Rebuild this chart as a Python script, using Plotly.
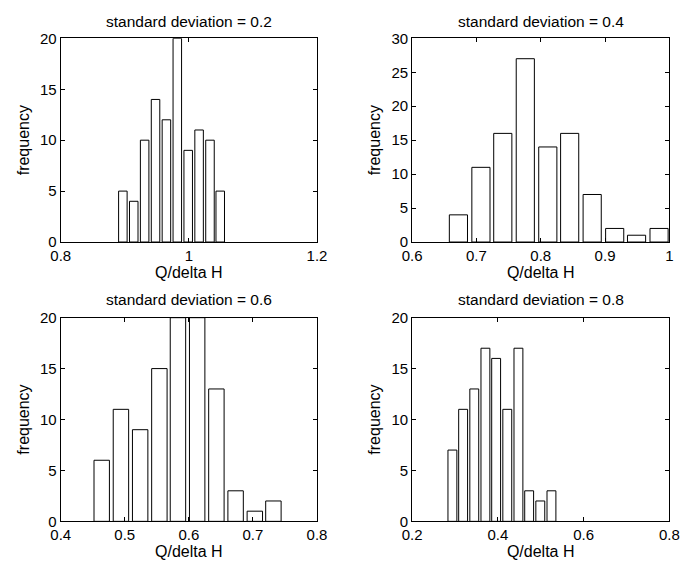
import plotly.graph_objects as go

# ---- data ----
titles = ["standard deviation = 0.2", "standard deviation = 0.4",
          "standard deviation = 0.6", "standard deviation = 0.8"]

centers_02 = [0.897, 0.914, 0.931, 0.948, 0.965, 0.982, 0.999, 1.016, 1.033, 1.049]
counts_02 = [5, 4, 10, 14, 12, 20, 9, 11, 10, 5]

centers_04 = [0.672, 0.707, 0.741, 0.776, 0.811, 0.845, 0.880, 0.915, 0.949, 0.984]
counts_04 = [4, 11, 16, 27, 14, 16, 7, 2, 1, 2]

centers_06 = [0.464, 0.494, 0.524, 0.554, 0.583, 0.613, 0.643, 0.673, 0.703, 0.732]
counts_06 = [6, 11, 9, 15, 20, 20, 13, 3, 1, 2]

centers_08 = [0.294, 0.319, 0.345, 0.371, 0.396, 0.422, 0.448, 0.473, 0.499, 0.525]
counts_08 = [7, 11, 13, 17, 16, 11, 17, 3, 2, 3]

x_ranges = [[0.8, 1.2], [0.6, 1.0], [0.4, 0.8], [0.2, 0.8]]
x_ticks = [[0.8, 1.0, 1.2], [0.6, 0.7, 0.8, 0.9, 1.0], [0.4, 0.5, 0.6, 0.7, 0.8], [0.2, 0.4, 0.6, 0.8]]
x_ticktext = [["0.8", "1", "1.2"], ["0.6", "0.7", "0.8", "0.9", "1"],
              ["0.4", "0.5", "0.6", "0.7", "0.8"], ["0.2", "0.4", "0.6", "0.8"]]
y_ranges = [[0, 20], [0, 30], [0, 20], [0, 20]]
x_label = "Q/delta H"
y_label = "frequency"

series = [(centers_02, counts_02), (centers_04, counts_04),
          (centers_06, counts_06), (centers_08, counts_08)]

# ---- layout geometry (page pixels; the page body adds an 8px offset) ----
OFF = 8
W, H = 691 - OFF, 573 - OFF
px_x = [(52, 316), (414, 679), (52, 316), (414, 679)]
px_y = [(30, 240), (30, 240), (318, 528), (318, 528)]
title_y = [13, 13, 299.5, 299.5]

FONT = "Liberation Sans, Arial, Helvetica, sans-serif"

fig = go.Figure()
annotations = []
for i, (cx, cnt) in enumerate(series):
    n = "" if i == 0 else str(i + 1)
    fig.add_trace(go.Bar(
        x=cx, y=cnt, xaxis="x" + n, yaxis="y" + n,
        marker=dict(color="white", line=dict(color="black", width=1)),
        showlegend=False, hoverinfo="x+y",
    ))
    x0, x1 = px_x[i][0] - OFF, px_x[i][1] - OFF
    y0, y1 = px_y[i][0] - OFF, px_y[i][1] - OFF
    xd = [x0 / W, x1 / W]
    yd = [1 - y1 / H, 1 - y0 / H]
    common = dict(showline=True, linecolor="black", linewidth=1, mirror="ticks",
                  ticks="inside", ticklen=4, tickcolor="black", showgrid=False,
                  zeroline=False, tickfont=dict(family=FONT, size=15, color="black"))
    fig.layout["xaxis" + n] = dict(
        domain=xd, range=x_ranges[i], anchor="y" + n,
        tickmode="array", tickvals=x_ticks[i], ticktext=x_ticktext[i],
        title=dict(text=x_label, font=dict(family=FONT, size=16, color="black"), standoff=3),
        **common)
    fig.layout["yaxis" + n] = dict(
        domain=yd, range=y_ranges[i], anchor="x" + n, dtick=5,
        title=dict(text=y_label, font=dict(family=FONT, size=16, color="black"), standoff=6),
        **common)
    annotations.append(dict(
        text=titles[i], x=(xd[0] + xd[1]) / 2, y=1 - (title_y[i] - OFF) / H,
        xref="paper", yref="paper", showarrow=False, xanchor="center", yanchor="middle",
        font=dict(family=FONT, size=15.5, color="black")))

fig.update_layout(
    width=W, height=H, margin=dict(l=0, r=0, t=0, b=0),
    paper_bgcolor="white", plot_bgcolor="white",
    bargap=0.17, annotations=annotations,
    font=dict(family=FONT, color="black"),
)

fig.write_html("out.html")
